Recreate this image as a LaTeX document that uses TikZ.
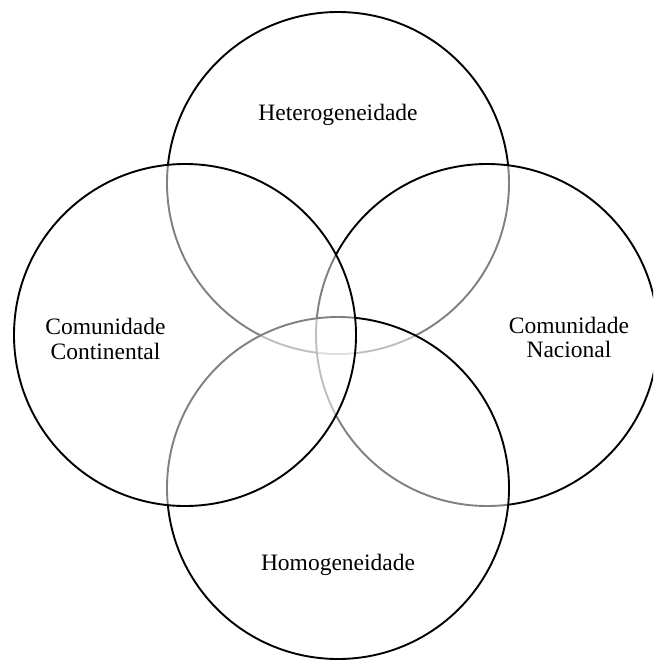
\documentclass[tikz,border=0pt]{standalone}
\usepackage{fontspec}
\setmainfont{Liberation Serif}
\begin{document}
\begin{tikzpicture}[x=1pt,y=-1pt,
  ring/.style={circle, draw=black, line width=1.9pt, fill=white, fill opacity=0.5, draw opacity=1, minimum size=342pt, inner sep=0pt},
  lbl/.style={font=\fontsize{23.5pt}{24.5pt}\selectfont, align=center, inner sep=0pt, text=black}]
\useasboundingbox (0,0) rectangle (653,661);
\clip (0,0) rectangle (653,661);
\fill[white] (0,0) rectangle (653,661);
\node[ring] (cTop) at (338,183) {};
\node[ring] (cRight) at (487,335) {};
\node[ring] (cBottom) at (338,488) {};
\node[ring] (cLeft) at (185,335) {};
\node[lbl, anchor=base] (tTop) at (338,120) {Heterogeneidade};
\node[lbl, anchor=base] (tBottom) at (338,570) {Homogeneidade};
\node[lbl] (tLeft) at (105.5,339) {Comunidade\\Continental};
\node[lbl] (tRight) at (569,337.5) {Comunidade\\Nacional};
\end{tikzpicture}
\end{document}
